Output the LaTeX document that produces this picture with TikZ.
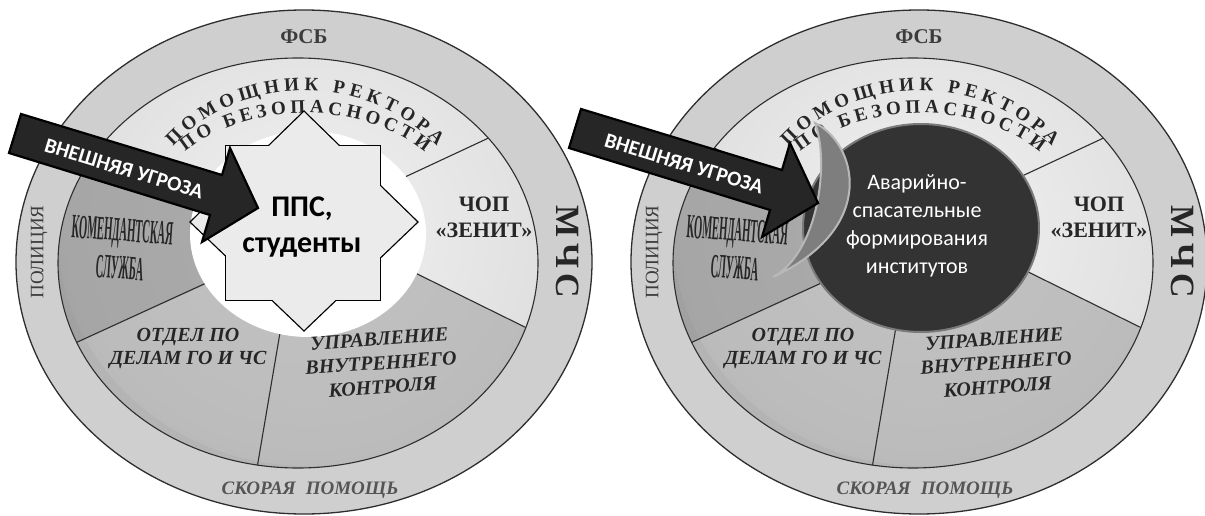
\documentclass[tikz,border=0pt]{standalone}
\usepackage{fontspec}
\setmainfont{Liberation Serif}
\newfontfamily\carl{Carlito}
\usepackage{graphicx}
\usetikzlibrary{decorations.text}

\definecolor{bandc}{HTML}{CFCFCF}
\definecolor{linec}{HTML}{2E2E2E}
\definecolor{txtc}{HTML}{262626}
\definecolor{fsbc}{HTML}{3C3C3C}
\definecolor{greyt}{HTML}{555555}
\definecolor{shA}{HTML}{F2F2F2}
\definecolor{shB}{HTML}{E0E0E0}
\definecolor{shC}{HTML}{BDBDBD}
\definecolor{shD}{HTML}{8A8A8A}
\definecolor{komc}{HTML}{8E8E8E}
\definecolor{lowc}{HTML}{9E9E9E}
\definecolor{starc}{HTML}{EBEBEB}
\definecolor{arrowc}{HTML}{262626}
\definecolor{darkc}{HTML}{333333}
\definecolor{darkedge}{HTML}{7A7A7A}
\definecolor{crescc}{HTML}{7E7E7E}
\definecolor{cresce}{HTML}{B8B8B8}

\pgfdeclareradialshading{ringshade}{\pgfpoint{0bp}{0bp}}{color(0bp)=(shA); color(24bp)=(shB); color(34bp)=(shC); color(50bp)=(shD)}

\tikzset{
  ringline/.style={linec, line width=1.1},
  ringlabel/.style={text=txtc, font=\bfseries\fontsize{22}{26}\selectfont, align=center},
  italabel/.style={text=txtc, font=\bfseries\itshape\fontsize{20}{23}\selectfont, align=center},
  arrowshape/.style={fill=arrowc, draw=black, line width=2.2, line join=miter},
  arrowtext/.style={text=white, font=\carl\bfseries\fontsize{21}{21}\selectfont, rotate=-17},
  arctext/.style={decorate, decoration={text along path, text align=fit to path, text={#1}}}
}

\newcommand\drawDisc{%
  % outer band
  \fill[bandc] (304,253) ellipse [x radius=288, y radius=252];
  \draw[ringline, line width=1.3] (304,253) ellipse [x radius=288, y radius=252];
  % ring with segments
  \begin{scope}
    \clip (298,252) ellipse [x radius=240, y radius=205];
    \shade[shading=ringshade] (308,281) ellipse [x radius=250, y radius=232];
    \fill[komc, opacity=.7] (308,281) -- (200,320) -- (0,414) -- (0,138) -- (200,228) -- cycle;
    \fill[lowc, opacity=.55] (308,281) -- (415,242) -- (626,137) -- (626,0) -- (0,0) -- (0,138) -- (200,228) -- cycle;
    \draw[ringline] (390,331) -- (510,387);
    \draw[ringline] (395,252) -- (545,178);
    \draw[ringline] (283,200) -- (255,35);
    \draw[ringline] (215,236) -- (60,165);
    \draw[ringline] (215,312) -- (80,376);
  \end{scope}
  \draw[ringline] (298,252) ellipse [x radius=240, y radius=205];
}

\newcommand\discLabels[1]{%
  \node[text=fsbc, font=\bfseries\fontsize{21}{21}\selectfont] (#1fsb) at (304,478) {ФСБ};
  \node[text=greyt, font=\bfseries\itshape\fontsize{19}{19}\selectfont] (#1sp) at (310,25) {СКОРАЯ\hspace{10pt}ПОМОЩЬ};
  \node[text=fsbc, rotate=90, font=\fontsize{19}{19}\selectfont] (#1pol) at (39,263) {ПОЛИЦИЯ};
  \node[text=txtc, rotate=-90, font=\bfseries\fontsize{34}{34}\selectfont] (#1mchs) at (568,263) {М\,Ч\,С};
  \path[arctext={|\bfseries\fontsize{19}{19}\selectfont\color{txtc}|ПОМОЩНИК РЕКТОРА}]
     (305,275) ++(141:170 and 149) arc[start angle=141, end angle=39, x radius=170, y radius=149];
  \path[arctext={|\bfseries\fontsize{19}{19}\selectfont\color{txtc}|ПО БЕЗОПАСНОСТИ}]
     (305,275) ++(136:167 and 127) arc[start angle=136, end angle=44, x radius=167, y radius=127];
  \node[ringlabel] (#1chop) at (484,298) {ЧОП\\«ЗЕНИТ»};
  \node[text=txtc, rotate=-4, align=center, font=\bfseries\fontsize{34}{38}\selectfont] (#1kom) at (121,266)
     {\scalebox{0.31}[1]{КОМЕНДАНТСКАЯ}\\\scalebox{0.31}[1]{СЛУЖБА}};
  \node[italabel] (#1otd) at (188,166) {ОТДЕЛ ПО\\ДЕЛАМ ГО И ЧС};
  \node[italabel, rotate=4, font=\bfseries\itshape\fontsize{20}{24}\selectfont] (#1upr) at (381,152) {УПРАВЛЕНИЕ\\ВНУТРЕННЕГО\\КОНТРОЛЯ};
}

\begin{document}
\begin{tikzpicture}[x=1pt, y=1pt]
\useasboundingbox (0,0) rectangle (1205,515);
\fill[white] (0,0) rectangle (1205,515);

% ---------- left disc ----------
\drawDisc
\fill[white] (308,281) ellipse [x radius=118, y radius=103];
\discLabels{L}
% star
\draw[black, line width=2.6, line join=miter] (226,215) rectangle (380,369);
\draw[black, line width=2.6, line join=miter] (304,403) -- (417,293) -- (304,185) -- (191,293) -- cycle;
\fill[starc] (226,215) rectangle (380,369);
\fill[starc] (304,403) -- (417,293) -- (304,185) -- (191,293) -- cycle;
\node[font=\carl\bfseries\fontsize{30}{36}\selectfont, align=center] (pps) at (302,288) {ППС,\\студенты};
% arrow
\path[arrowshape] (21,401) -- (222,340) -- (230,367) -- (258,307) -- (202,273) -- (210,300) -- (9,362) -- cycle;
\node[arrowtext] (threatL) at (124,346) {ВНЕШНЯЯ УГРОЗА};

% ---------- right disc ----------
\begin{scope}[xshift=615pt]
\drawDisc
\end{scope}
\filldraw[fill=darkc, draw=darkedge, line width=2] (921,287) ellipse [x radius=118, y radius=104];
\begin{scope}[xshift=615pt]
\discLabels{R}
\end{scope}
\filldraw[fill=crescc, draw=cresce, line width=2]
  (815,392) .. controls (856,372) and (880,288) .. (773,238)
  .. controls (818,262) and (830,352) .. (815,392) -- cycle;
\node[text=white, font=\carl\fontsize{22}{28}\selectfont, align=center] (asf) at (917,289)
  {Аварийно-\\спасательные\\формирования\\институтов};
\path[arrowshape] (581,406) -- (782,345) -- (790,372) -- (818,312) -- (762,278) -- (770,305) -- (569,367) -- cycle;
\node[arrowtext] (threatR) at (684,351) {ВНЕШНЯЯ УГРОЗА};
\end{tikzpicture}
\end{document}
